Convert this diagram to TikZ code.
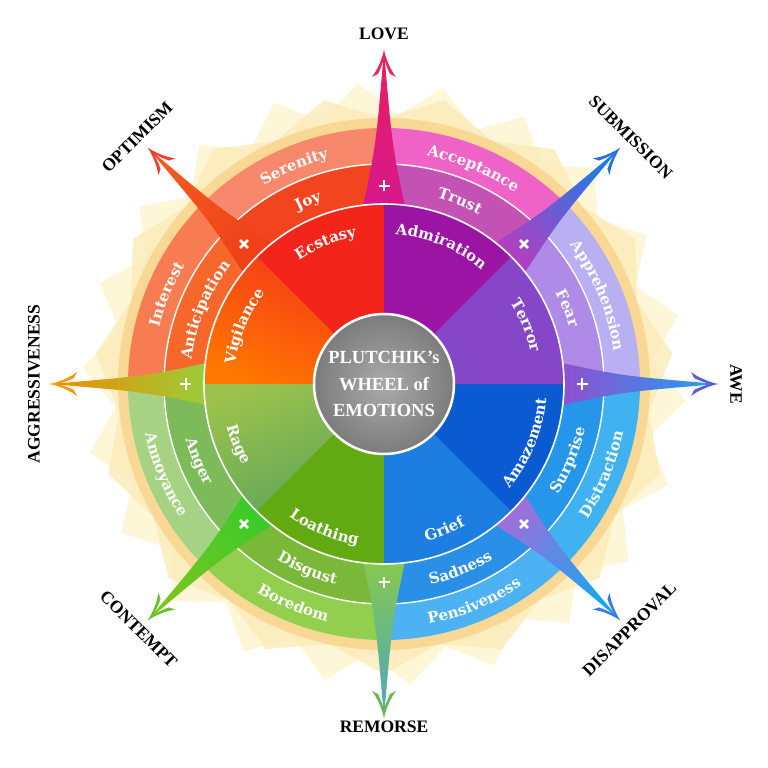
\documentclass[tikz,border=0pt]{standalone}
\usepackage{fontspec}
\usepackage{tikz}
\usetikzlibrary{shapes.geometric,decorations.text}
\newfontfamily\wheelfont{DejaVu Serif}
\newfontfamily\capsfont{Liberation Serif}

% sector colours
\definecolor{cEcstasy}{HTML}{F3241A}
\definecolor{cJoy}{HTML}{F2441F}
\definecolor{cSerenity}{HTML}{F7886C}
\definecolor{cVigilanceA}{HTML}{F5361A}
\definecolor{cVigilanceB}{HTML}{FF7600}
\definecolor{cAnticipation}{HTML}{F7662A}
\definecolor{cInterest}{HTML}{F87C52}
\definecolor{cRageA}{HTML}{9AC24C}
\definecolor{cRageB}{HTML}{5EA45A}
\definecolor{cAnger}{HTML}{7CBA5A}
\definecolor{cAnnoyance}{HTML}{A6D383}
\definecolor{cLoathing}{HTML}{62AA12}
\definecolor{cDisgust}{HTML}{7AB83A}
\definecolor{cBoredom}{HTML}{92CF4E}
\definecolor{cGrief}{HTML}{1C7EE0}
\definecolor{cSadness}{HTML}{2A8FE6}
\definecolor{cPensiveness}{HTML}{4CB2F3}
\definecolor{cAmazement}{HTML}{0A5AD2}
\definecolor{cSurprise}{HTML}{2596EA}
\definecolor{cDistraction}{HTML}{40B2F2}
\definecolor{cTerror}{HTML}{8646C8}
\definecolor{cFear}{HTML}{AF8AE6}
\definecolor{cApprehension}{HTML}{B8B0F2}
\definecolor{cAdmiration}{HTML}{9C14A4}
\definecolor{cTrust}{HTML}{C451B4}
\definecolor{cAcceptance}{HTML}{EF62C6}
% halo and hub
\definecolor{haloPale}{HTML}{FDF7D8}
\definecolor{haloMid}{HTML}{FBEBB8}
\definecolor{haloBand}{HTML}{F8D894}
\definecolor{hubIn}{HTML}{AAAAAA}
\definecolor{hubOut}{HTML}{7C7C7C}

\newcommand\wlab{\wheelfont\bfseries\fontsize{15bp}{17bp}\selectfont\color{white}}

\tikzset{
  arclab/.style={decorate, decoration={text along path, text align=center, text={|\wlab|#1}}},
  dyad/.style={font=\capsfont\bfseries\fontsize{17.5bp}{19bp}\selectfont, text=black, inner sep=0pt},
  plusmark/.pic={\draw[white, line width=2.8bp] (-5.5,0) -- (5.5,0) (0,-5.5) -- (0,5.5);},
  barbhead/.pic={\path[pic actions] (0,0) .. controls (-9,2) and (-19,6) .. (-27,12) -- (-24,6)
     .. controls (-18,3) and (-13,1.5) .. (-8,0) .. controls (-13,-1.5) and (-18,-3) .. (-24,-6)
     -- (-27,-12) .. controls (-19,-6) and (-9,-2) .. (0,0) -- cycle;}
}

\begin{document}
\begin{tikzpicture}[x=1bp,y=1bp]
\useasboundingbox[fill=white] (-384,-384) rectangle (384,384);

% halo behind the wheel
\node[star, star points=22, star point ratio=1.12, minimum size=604bp, inner sep=0pt, fill=haloPale, shape border rotate=5] (haloA) at (0,0) {};
\node[star, star points=15, star point ratio=1.09, minimum size=580bp, inner sep=0pt, fill=haloMid, fill opacity=0.8, shape border rotate=12] (haloB) at (0,0) {};
\fill[haloBand] (0,0) circle[radius=266];

% outer ring
\fill[cSerenity] (0,0) -- (135:256) arc[start angle=135, end angle=90, radius=256] -- cycle;
\fill[cInterest] (0,0) -- (180:256) arc[start angle=180, end angle=135, radius=256] -- cycle;
\fill[cAnnoyance] (0,0) -- (225:256) arc[start angle=225, end angle=180, radius=256] -- cycle;
\fill[cBoredom] (0,0) -- (270:256) arc[start angle=270, end angle=225, radius=256] -- cycle;
\fill[cPensiveness] (0,0) -- (315:256) arc[start angle=315, end angle=270, radius=256] -- cycle;
\fill[cDistraction] (0,0) -- (360:256) arc[start angle=360, end angle=315, radius=256] -- cycle;
\fill[cApprehension] (0,0) -- (45:256) arc[start angle=45, end angle=0, radius=256] -- cycle;
\fill[cAcceptance] (0,0) -- (90:256) arc[start angle=90, end angle=45, radius=256] -- cycle;
% middle ring
\fill[cJoy] (0,0) -- (135:220) arc[start angle=135, end angle=90, radius=220] -- cycle;
\fill[cAnticipation] (0,0) -- (180:220) arc[start angle=180, end angle=135, radius=220] -- cycle;
\fill[cAnger] (0,0) -- (225:220) arc[start angle=225, end angle=180, radius=220] -- cycle;
\fill[cDisgust] (0,0) -- (270:220) arc[start angle=270, end angle=225, radius=220] -- cycle;
\fill[cSadness] (0,0) -- (315:220) arc[start angle=315, end angle=270, radius=220] -- cycle;
\fill[cSurprise] (0,0) -- (360:220) arc[start angle=360, end angle=315, radius=220] -- cycle;
\fill[cFear] (0,0) -- (45:220) arc[start angle=45, end angle=0, radius=220] -- cycle;
\fill[cTrust] (0,0) -- (90:220) arc[start angle=90, end angle=45, radius=220] -- cycle;
\draw[white, line width=1.4bp] (0,0) circle[radius=220];

% dyad spikes
\coordinate (tLove) at (90:334);
\coordinate (tSubmission) at (45:334);
\coordinate (tAwe) at (0:334);
\coordinate (tDisapproval) at (315:334);
\coordinate (tRemorse) at (270:334);
\coordinate (tContempt) at (225:334);
\coordinate (tAggressiveness) at (180:334);
\coordinate (tOptimism) at (135:334);
\shade[top color={rgb,255:red,232;green,32;blue,94}, bottom color={rgb,255:red,214;green,24;blue,140}, shading angle=0] (96.5:181) .. controls (91.9:240) .. (tLove) .. controls (88.1:240) .. (83.5:181) -- cycle;
\shade[top color={rgb,255:red,30;green,123;blue,232}, bottom color={rgb,255:red,176;green,64;blue,192}, shading angle=-45] (51.5:181) .. controls (46.9:240) .. (tSubmission) .. controls (43.1:240) .. (38.5:181) -- cycle;
\shade[top color={rgb,255:red,28;green,162;blue,240}, bottom color={rgb,255:red,144;green,80;blue,208}, shading angle=-90] (6.5:181) .. controls (1.9:240) .. (tAwe) .. controls (-1.9:240) .. (-6.5:181) -- cycle;
\shade[top color={rgb,255:red,20;green,168;blue,242}, bottom color={rgb,255:red,156;green,112;blue,218}, shading angle=-135] (321.5:181) .. controls (316.9:240) .. (tDisapproval) .. controls (313.1:240) .. (308.5:181) -- cycle;
\shade[top color={rgb,255:red,74;green,166;blue,198}, bottom color={rgb,255:red,134;green,200;blue,78}, shading angle=180] (276.5:181) .. controls (271.9:240) .. (tRemorse) .. controls (268.1:240) .. (263.5:181) -- cycle;
\shade[top color={rgb,255:red,124;green,196;blue,30}, bottom color={rgb,255:red,60;green,203;blue,42}, shading angle=135] (231.5:181) .. controls (226.9:240) .. (tContempt) .. controls (223.1:240) .. (218.5:181) -- cycle;
\shade[top color={rgb,255:red,242;green,138;blue,0}, middle color={rgb,255:red,245;green,176;blue,0}, bottom color={rgb,255:red,156;green,203;blue,58}, shading angle=90] (186.5:181) .. controls (181.9:240) .. (tAggressiveness) .. controls (178.1:240) .. (173.5:181) -- cycle;
\shade[top color={rgb,255:red,242;green,90;blue,34}, bottom color={rgb,255:red,240;green,64;blue,24}, shading angle=45] (141.5:181) .. controls (136.9:240) .. (tOptimism) .. controls (133.1:240) .. (128.5:181) -- cycle;

% inner sectors
\fill[cEcstasy] (0,0) -- (135:180) arc[start angle=135, end angle=90, radius=180] -- cycle;
\shade[top color=cVigilanceB, bottom color=cVigilanceA, shading angle=157.5] (0,0) -- (180:180) arc[start angle=180, end angle=135, radius=180] -- cycle;
\shade[top color=cRageB, bottom color=cRageA, shading angle=-157.5] (0,0) -- (225:180) arc[start angle=225, end angle=180, radius=180] -- cycle;
\fill[cLoathing] (0,0) -- (270:180) arc[start angle=270, end angle=225, radius=180] -- cycle;
\fill[cGrief] (0,0) -- (315:180) arc[start angle=315, end angle=270, radius=180] -- cycle;
\fill[cAmazement] (0,0) -- (360:180) arc[start angle=360, end angle=315, radius=180] -- cycle;
\fill[cTerror] (0,0) -- (45:180) arc[start angle=45, end angle=0, radius=180] -- cycle;
\fill[cAdmiration] (0,0) -- (90:180) arc[start angle=90, end angle=45, radius=180] -- cycle;
\draw[white, line width=1.6bp] (0,0) circle[radius=180];

% plus marks and arrow heads
\pic[rotate=0] at (90:198) {plusmark};
\pic[rotate=-45] at (45:198) {plusmark};
\pic[rotate=0] at (0:198) {plusmark};
\pic[rotate=45] at (315:198) {plusmark};
\pic[rotate=0] at (270:198) {plusmark};
\pic[rotate=-45] at (225:198) {plusmark};
\pic[rotate=0] at (180:198) {plusmark};
\pic[rotate=45] at (135:198) {plusmark};
\pic[fill={rgb,255:red,232;green,40;blue,90}, rotate=90] at (tLove) {barbhead};
\pic[fill={rgb,255:red,42;green,111;blue,224}, rotate=45] at (tSubmission) {barbhead};
\pic[fill={rgb,255:red,94;green,90;blue,216}, rotate=0] at (tAwe) {barbhead};
\pic[fill={rgb,255:red,58;green,123;blue,226}, rotate=-45] at (tDisapproval) {barbhead};
\pic[fill={rgb,255:red,102;green,184;blue,80}, rotate=-90] at (tRemorse) {barbhead};
\pic[fill={rgb,255:red,102;green,192;blue,42}, rotate=-135] at (tContempt) {barbhead};
\pic[fill={rgb,255:red,242;green,154;blue,20}, rotate=180] at (tAggressiveness) {barbhead};
\pic[fill={rgb,255:red,240;green,64;blue,42}, rotate=135] at (tOptimism) {barbhead};

% hub
\node[circle, minimum size=140bp, inner sep=0pt, draw=white, line width=2.5bp, inner color=hubIn, outer color=hubOut, text=white, align=center,
  font=\capsfont\bfseries\fontsize{18.5bp}{26.5bp}\selectfont] (hub) at (0,0) {PLUTCHIK’s\\WHEEL of\\EMOTIONS};

% ring labels, top half clockwise
\path[arclab=Ecstasy] (135:150) arc[start angle=135, end angle=90, radius=150];
\path[arclab=Vigilance] (180:150) arc[start angle=180, end angle=135, radius=150];
\path[arclab=Terror] (45:150) arc[start angle=45, end angle=0, radius=150];
\path[arclab=Admiration] (90:150) arc[start angle=90, end angle=45, radius=150];
\path[arclab=Joy] (135:194) arc[start angle=135, end angle=90, radius=194];
\path[arclab=Anticipation] (180:194) arc[start angle=180, end angle=135, radius=194];
\path[arclab=Fear] (45:194) arc[start angle=45, end angle=0, radius=194];
\path[arclab=Trust] (90:194) arc[start angle=90, end angle=45, radius=194];
\path[arclab=Serenity] (135:232) arc[start angle=135, end angle=90, radius=232];
\path[arclab=Interest] (180:232) arc[start angle=180, end angle=135, radius=232];
\path[arclab=Apprehension] (45:232) arc[start angle=45, end angle=0, radius=232];
\path[arclab=Acceptance] (90:232) arc[start angle=90, end angle=45, radius=232];
% ring labels, bottom half counter-clockwise
\path[arclab=Rage] (180:163) arc[start angle=180, end angle=225, radius=163];
\path[arclab=Loathing] (225:163) arc[start angle=225, end angle=270, radius=163];
\path[arclab=Grief] (270:163) arc[start angle=270, end angle=315, radius=163];
\path[arclab=Amazement] (315:163) arc[start angle=315, end angle=360, radius=163];
\path[arclab=Anger] (180:206) arc[start angle=180, end angle=225, radius=206];
\path[arclab=Disgust] (225:206) arc[start angle=225, end angle=270, radius=206];
\path[arclab=Sadness] (270:206) arc[start angle=270, end angle=315, radius=206];
\path[arclab=Surprise] (315:206) arc[start angle=315, end angle=360, radius=206];
\path[arclab=Annoyance] (180:244) arc[start angle=180, end angle=225, radius=244];
\path[arclab=Boredom] (225:244) arc[start angle=225, end angle=270, radius=244];
\path[arclab=Pensiveness] (270:244) arc[start angle=270, end angle=315, radius=244];
\path[arclab=Distraction] (315:244) arc[start angle=315, end angle=360, radius=244];

% dyad names
\node[dyad] (love) at (90:350) {LOVE};
\node[dyad, rotate=-45] (submission) at (45:349) {SUBMISSION};
\node[dyad, rotate=-90] (awe) at (0:352) {AWE};
\node[dyad, rotate=45] (disapproval) at (315:347) {DISAPPROVAL};
\node[dyad] (remorse) at (270:343) {REMORSE};
\node[dyad, rotate=-45] (contempt) at (225:347) {CONTEMPT};
\node[dyad, rotate=90] (aggressiveness) at (180:350) {AGGRESSIVENESS};
\node[dyad, rotate=45] (optimism) at (135:349) {OPTIMISM};

\end{tikzpicture}
\end{document}
